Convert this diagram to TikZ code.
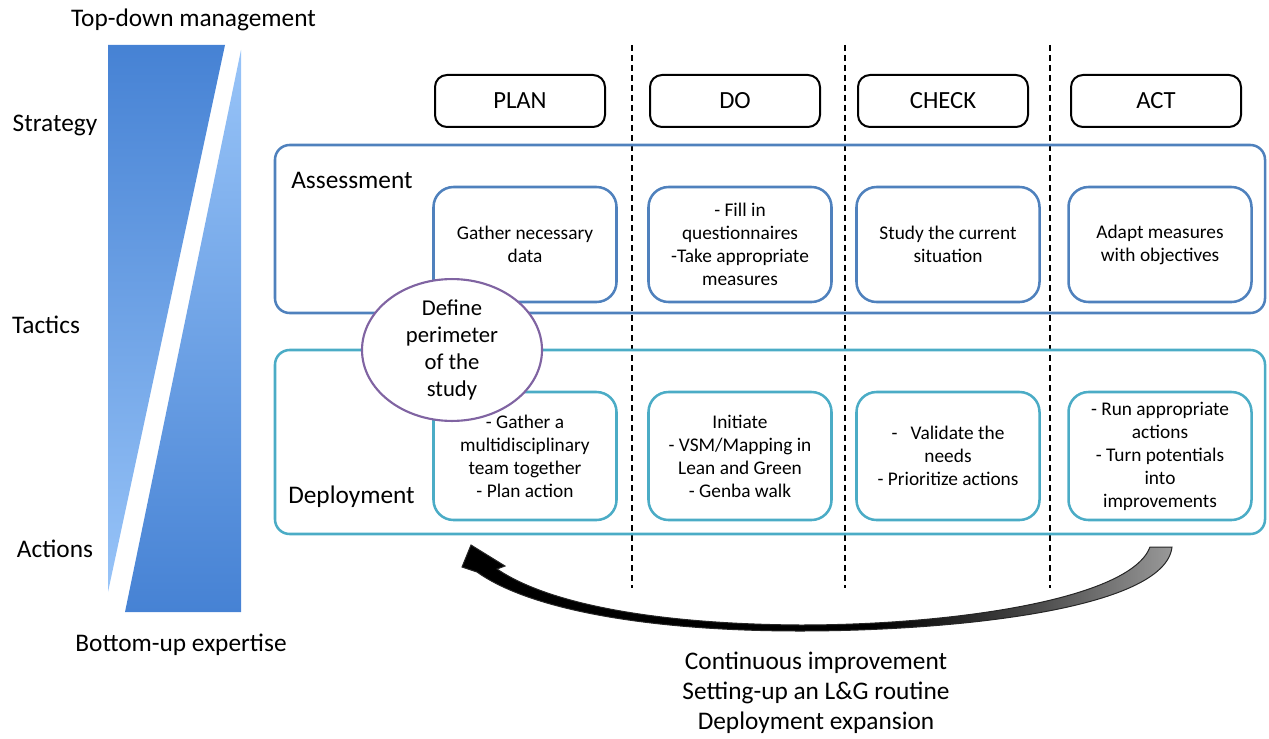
\documentclass[tikz,border=0pt]{standalone}
\usepackage{fontspec}
\setmainfont{Carlito}
\usetikzlibrary{shapes.geometric}
\definecolor{assess}{RGB}{79,129,189}
\definecolor{deploy}{RGB}{75,172,198}
\definecolor{purp}{RGB}{128,100,162}
\definecolor{bdark}{RGB}{70,130,212}
\definecolor{blight}{RGB}{152,196,248}
\pgfdeclarehorizontalshading{arrowshade}{100bp}{color(0bp)=(black); color(25bp)=(black); color(54bp)=(black); color(64bp)=(black!75); color(75bp)=(black!40); color(100bp)=(black!40)}
\begin{document}
\begin{tikzpicture}[x=0.75pt,y=-0.75pt,
  lbl/.style={font=\fontsize{19}{22.5}\selectfont, inner sep=0pt, align=center},
  hdr/.style={draw=black, line width=1.5pt, rounded corners=9pt, minimum width=127.5pt, minimum height=39pt, font=\fontsize{18.5}{22}\selectfont, inner sep=0pt},
  rowbox/.style={draw=#1, line width=1.9pt, rounded corners=11pt, minimum width=742.5pt, inner sep=0pt},
  cell/.style={draw=#1, fill=white, line width=1.9pt, rounded corners=15pt, minimum width=137.25pt, align=center, font=\fontsize{14.5}{17.25}\selectfont, inner sep=0pt},
  divider/.style={draw=black, line width=0.8pt, dash pattern=on 4.5pt off 3pt},
  perim/.style={ellipse, draw=purp, fill=white, line width=1.6pt, minimum width=135pt, minimum height=86.25pt, inner sep=0pt, align=center, font=\fontsize{17}{20.25}\selectfont}
]
\useasboundingbox (0,0) rectangle (1269,738);

% left bar
\shade[top color=bdark, bottom color=blight] (108,45) -- (225,45) -- (108,592) -- cycle;
\shade[top color=blight, bottom color=bdark] (241,50) -- (241,612) -- (125,612) -- cycle;

\node[lbl] (topdown) at (193.5,20) {Top-down management};
\node[lbl] (strategy) at (55,125) {Strategy};
\node[lbl] (tactics) at (46,325) {Tactics};
\node[lbl] (actions) at (55,549) {Actions};
\node[lbl] (bottomup) at (181,645) {Bottom-up expertise};

% dividers
\coordinate (d1t) at (632,45); \coordinate (d1b) at (632,588);
\coordinate (d2t) at (845,45); \coordinate (d2b) at (845,588);
\coordinate (d3t) at (1050,45); \coordinate (d3b) at (1050,588);
\draw[divider] (d1t) -- (d1b);
\draw[divider] (d2t) -- (d2b);
\draw[divider] (d3t) -- (d3b);

% headers
\node[hdr] (plan) at (520,101) {PLAN};
\node[hdr] (do) at (735,101) {DO};
\node[hdr] (check) at (943,101) {CHECK};
\node[hdr] (act) at (1156,101) {ACT};

% rows
\node[rowbox=assess, minimum height=126pt] (arow) at (770,229) {};
\node[rowbox=deploy, minimum height=138pt] (drow) at (770,442) {};
\node[lbl, anchor=west] (alabel) at (291,180) {Assessment};
\node[lbl, anchor=west] (dlabel) at (288,497) {Deployment};

% assessment cells
\node[cell=assess, minimum height=86.25pt] (a1) at (525,244.5) {Gather necessary\\data};
\node[cell=assess, minimum height=86.25pt] (a2) at (740,244.5) {- Fill in\\questionnaires\\-Take appropriate\\measures};
\node[cell=assess, minimum height=86.25pt] (a3) at (948,244.5) {Study the current\\situation};
\node[cell=assess, minimum height=86.25pt] (a4) at (1160,244.5) {Adapt measures\\with objectives};

% deployment cells
\node[cell=deploy, minimum height=96pt] (b1) at (525,456) {- Gather a\\multidisciplinary\\team together\\- Plan action};
\node[cell=deploy, minimum height=96pt] (b2) at (740,456) {Initiate\\- VSM/Mapping in\\Lean and Green\\- Genba walk};
\node[cell=deploy, minimum height=96pt] (b3) at (948,456) {-\ \ \ Validate the\\needs\\- Prioritize actions};
\node[cell=deploy, minimum height=96pt] (b4) at (1160,456) {- Run appropriate\\actions\\- Turn potentials\\into\\improvements};

% ellipse
\node[perim] (define) at (452,350) {Define\\perimeter\\of the\\study};

% curved arrow
\shade[shading=arrowshade, draw=black!85, line width=0.75pt]
  (471,545) -- (505,566) -- (497,569)
  .. controls (550,605) and (660,624) .. (800,625)
  .. controls (950,625) and (1130,600) .. (1150,547)
  -- (1172,547)
  .. controls (1165,610) and (950,631) .. (800,631)
  .. controls (650,631) and (530,610) .. (477,572)
  -- (462,567) -- cycle;

\node[lbl] (loop) at (816,693) {Continuous improvement\\Setting-up an L\&G routine\\Deployment expansion};
\end{tikzpicture}
\end{document}
